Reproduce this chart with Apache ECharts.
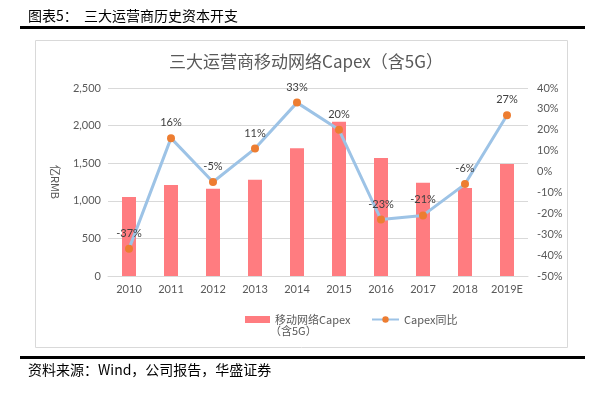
<!DOCTYPE html>
<html>
<head>
<meta charset="utf-8">
<script src="https://cdn.jsdelivr.net/npm/echarts@6/dist/echarts.min.js"></script>
<style>
  html, body { margin: 0; padding: 0; background: #fff; }
  #chart { width: 609px; height: 402px; }
</style>
</head>
<body>
<div id="chart"></div>
<script>
// 三大运营商移动网络 Capex（含5G）与同比
const years = ['2010', '2011', '2012', '2013', '2014', '2015', '2016', '2017', '2018', '2019E'];
const capex = [1050, 1210, 1160, 1280, 1700, 2050, 1570, 1240, 1170, 1490];   // 亿RMB
const yoy = [-37, 16, -5, 11, 33, 20, -23, -21, -6, 27];                      // %

const FONT_CJK = '"Noto Sans CJK SC", "Noto Sans", sans-serif';
const FONT_AXIS = 'Lato, "Noto Sans", sans-serif';
const GRAY = '#595959';

const chart = echarts.init(document.getElementById('chart'));

chart.setOption({
  animation: false,
  title: {
    text: '三大运营商移动网络Capex（含5G）',
    left: 301, top: 48, textAlign: 'center',
    textStyle: { fontFamily: FONT_CJK, fontSize: 17, fontWeight: 'normal', color: GRAY }
  },
  grid: { left: 108, right: 81, top: 88, bottom: 126 },
  legend: [
    {
      left: 240, top: 309,
      itemWidth: 25, itemHeight: 7,
      data: [{ name: '移动网络Capex', icon: 'rect' }],
      textStyle: { fontFamily: FONT_CJK, fontSize: 11, color: GRAY }
    },
    {
      left: 366, top: 309,
      itemWidth: 27, itemHeight: 8,
      data: ['Capex同比'],
      textStyle: { fontFamily: FONT_CJK, fontSize: 11, color: GRAY }
    }
  ],
  xAxis: {
    type: 'category',
    data: years,
    axisTick: { show: false },
    axisLine: { lineStyle: { color: '#D9D9D9' } },
    axisLabel: { color: GRAY, fontFamily: FONT_AXIS, fontSize: 11, margin: 8 }
  },
  yAxis: [
    {
      type: 'value', min: 0, max: 2500, interval: 500,
      name: '亿RMB', nameLocation: 'middle', nameRotate: -90, nameGap: 47,
      nameTextStyle: { fontFamily: FONT_CJK, fontSize: 11, color: GRAY },
      axisLine: { show: false }, axisTick: { show: false },
      splitLine: { lineStyle: { color: '#D9D9D9' } },
      axisLabel: {
        color: GRAY, fontFamily: FONT_AXIS, fontSize: 11, margin: 7,
        formatter: v => v.toLocaleString('en-US')
      }
    },
    {
      type: 'value', min: -50, max: 40, interval: 10,
      axisLine: { show: false }, axisTick: { show: false },
      splitLine: { show: false },
      axisLabel: { color: GRAY, fontFamily: FONT_AXIS, fontSize: 11, margin: 9, formatter: '{value}%' }
    }
  ],
  series: [
    {
      name: '移动网络Capex',
      type: 'bar',
      data: capex,
      barWidth: 14,
      itemStyle: { color: '#FF7C80' }
    },
    {
      name: 'Capex同比',
      type: 'line',
      yAxisIndex: 1,
      data: yoy,
      symbol: 'circle',
      symbolSize: 8,
      lineStyle: { color: '#9DC3E6', width: 3 },
      itemStyle: { color: '#ED7D31' },
      label: {
        show: true, position: 'top', distance: 6,
        color: '#404040', fontFamily: FONT_AXIS, fontSize: 11,
        formatter: p => p.value + '%'
      },
      z: 3
    }
  ],
  graphic: [
    { type: 'text', left: 28, top: 9,
      style: { text: '图表5：  三大运营商历史资本开支', font: '14px ' + FONT_CJK, fill: '#000' } },
    { type: 'rect', shape: { x: 20, y: 26, width: 565, height: 3 }, style: { fill: '#000' } },
    { type: 'rect', shape: { x: 35.5, y: 40.5, width: 532, height: 307 },
      style: { fill: 'none', stroke: '#D9D9D9', lineWidth: 1 }, z: -1 },
    { type: 'text', left: 270, top: 325,
      style: { text: '（含5G）', font: '11px ' + FONT_CJK, fill: GRAY } },
    { type: 'rect', shape: { x: 20, y: 356, width: 565, height: 3 }, style: { fill: '#000' } },
    { type: 'text', left: 28, top: 363,
      style: { text: '资料来源：Wind，公司报告，华盛证券', font: '14px ' + FONT_CJK, fill: '#000' } }
  ]
});
</script>
</body>
</html>
